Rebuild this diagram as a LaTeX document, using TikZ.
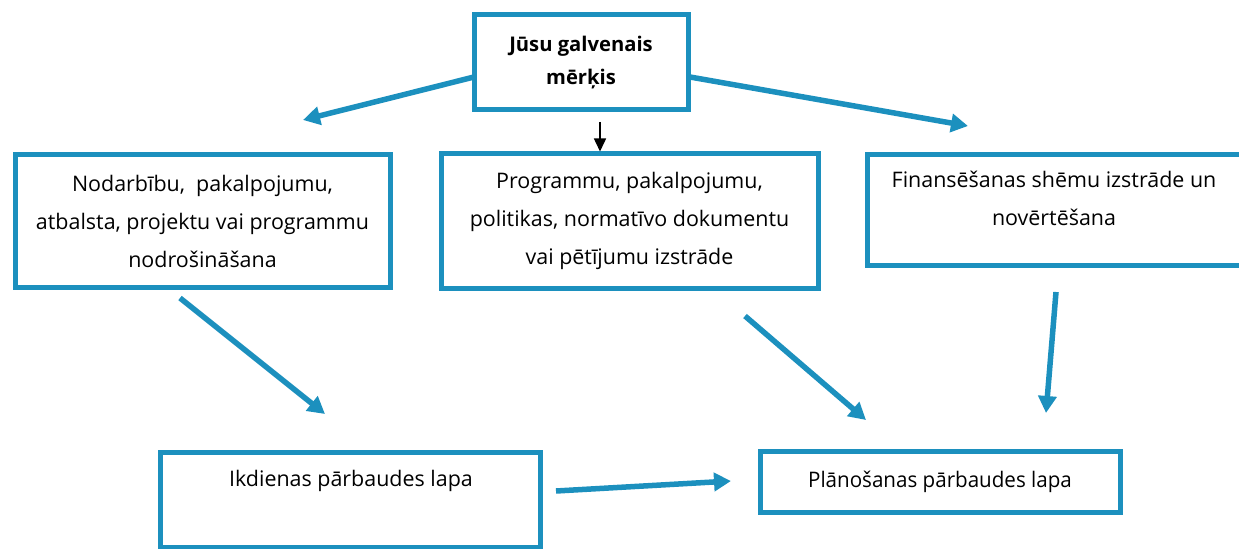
\documentclass[tikz,border=0pt]{standalone}
\usepackage{fontspec}
\setmainfont{Open Sans}
\newfontfamily\narrowfont[FakeStretch=0.96]{Open Sans}
\usepackage{tikz}
\usetikzlibrary{positioning,arrows.meta}
\definecolor{boxblue}{RGB}{28,144,190}

\begin{document}
\begin{tikzpicture}[
	box/.style={draw=boxblue, line width=0.1cm, align=center, inner sep=0pt, font=\fontsize{12.2}{21.4}\selectfont},
	boxtext/.style={align=center, inner sep=0pt, font=\fontsize{12.2}{21.4}\selectfont},
	bluearrow/.style={-{Triangle[length=0.34cm,width=0.36cm]}, boxblue, line width=0.11cm},
	blackarrow/.style={-{Triangle[length=0.26cm,width=0.24cm]}, black, line width=0.03cm}
	]
	\useasboundingbox (0,0) rectangle (24.78,-10.98);
	% Goal on top
	\node[box, minimum width=4.28cm, minimum height=1.90cm, font=\fontsize{11.5}{18.5}\selectfont\bfseries] (goal) at (11.62,-1.25) {J\=usu galvenais\\m\=er\c{k}is};
	% Middle row
	\node[box, minimum width=7.50cm, minimum height=2.66cm] (serv) at (4.05,-4.43) {Nodarb\=ibu,~ pakalpojumu,\\atbalsta, projektu vai programmu\\nodro\v{s}in\=a\v{s}ana};
	\node[box, minimum width=7.54cm, minimum height=2.70cm] (prog) at (12.59,-4.42) {Programmu, pakalpojumu,\\politikas, normat\=ivo dokumentu\\vai p\=et\=ijumu izstr\=ade};
	\node[box, minimum width=7.48cm, minimum height=2.22cm] (fin) at (21.08,-4.21) {};
	\node[boxtext] (finText) at (21.08,-3.97) {Finans\=e\v{s}anas sh\=emu izstr\=ade un\\nov\=ert\=e\v{s}ana};
	% Bottom row
	\node[box, minimum width=7.60cm, minimum height=1.90cm] (daily) at (7.00,-9.99) {};
	\node[boxtext] (dailyText) at (7.02,-9.62) {Ikdienas p\=arbaudes lapa};
	\node[box, minimum width=7.20cm, minimum height=1.22cm, font=\fontsize{12.2}{21.4}\narrowfont] (plan) at (18.80,-9.63) {Pl\=ano\v{s}anas p\=arbaudes lapa};

	\coordinate []  (g1) at (9.48,-1.54) ;
	\coordinate []  (gl) at (6.06,-2.40) ;
	\coordinate []  (g2) at (13.80,-1.54) ;
	\coordinate []  (gr) at (19.36,-2.52) ;
	\coordinate []  (bk) at (12.00,-2.44) ;
	\coordinate []  (bk2) at (12.00,-3.03) ;
	\coordinate []  (s1) at (3.60,-5.96) ;
	\coordinate []  (s2) at (6.50,-8.28) ;
	\coordinate []  (p1) at (14.90,-6.32) ;
	\coordinate []  (p2) at (17.32,-8.40) ;
	\coordinate []  (f1) at (21.12,-5.84) ;
	\coordinate []  (f2) at (20.92,-8.26) ;
	\coordinate []  (d1) at (11.12,-9.82) ;
	\coordinate []  (d2) at (14.62,-9.62) ;
	\path (g1) edge[bluearrow] (gl);
	\path (g2) edge[bluearrow] (gr);
	\path (bk) edge[blackarrow] (bk2);
	\path (s1) edge[bluearrow] (s2);
	\path (p1) edge[bluearrow] (p2);
	\path (f1) edge[bluearrow] (f2);
	\path (d1) edge[bluearrow] (d2);
\end{tikzpicture}
\end{document}
